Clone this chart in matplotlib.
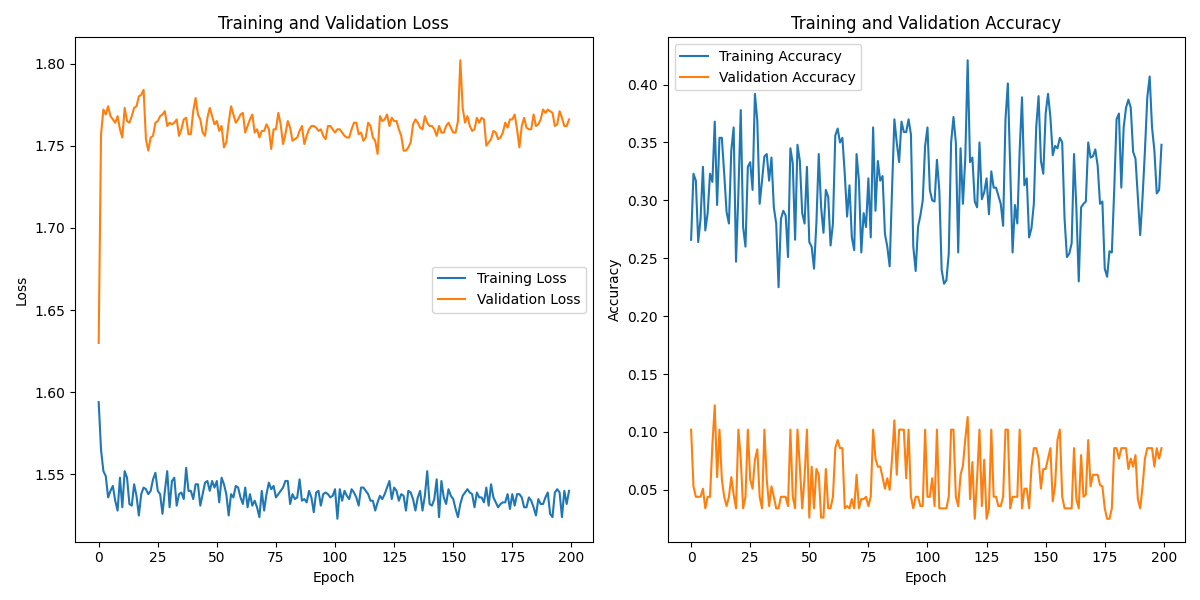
import numpy as np
import matplotlib
matplotlib.use('Agg')
import matplotlib.pyplot as plt

# values, one per epoch (0..199)
train_loss = [
    1.594, 1.565, 1.552, 1.549, 1.536, 1.540, 1.543, 1.534, 1.528, 1.548,
    1.530, 1.552, 1.548, 1.532, 1.531, 1.544, 1.537, 1.525, 1.538, 1.542,
    1.541, 1.538, 1.540, 1.547, 1.551, 1.540, 1.538, 1.526, 1.540, 1.552,
    1.530, 1.546, 1.548, 1.531, 1.538, 1.539, 1.535, 1.554, 1.540, 1.540,
    1.535, 1.544, 1.544, 1.531, 1.538, 1.545, 1.546, 1.540, 1.546, 1.542,
    1.546, 1.533, 1.548, 1.544, 1.538, 1.525, 1.538, 1.536, 1.543, 1.542,
    1.536, 1.532, 1.542, 1.530, 1.538, 1.531, 1.534, 1.530, 1.524, 1.540,
    1.528, 1.538, 1.545, 1.541, 1.543, 1.536, 1.538, 1.540, 1.542, 1.546,
    1.546, 1.532, 1.538, 1.535, 1.536, 1.547, 1.534, 1.535, 1.533, 1.540,
    1.536, 1.527, 1.539, 1.540, 1.531, 1.538, 1.539, 1.538, 1.536, 1.537,
    1.541, 1.523, 1.541, 1.534, 1.540, 1.537, 1.535, 1.541, 1.539, 1.536,
    1.531, 1.542, 1.542, 1.540, 1.538, 1.534, 1.534, 1.528, 1.533, 1.537,
    1.535, 1.538, 1.542, 1.546, 1.535, 1.542, 1.540, 1.534, 1.538, 1.537,
    1.528, 1.540, 1.539, 1.535, 1.528, 1.536, 1.540, 1.528, 1.537, 1.552,
    1.532, 1.531, 1.535, 1.547, 1.524, 1.546, 1.536, 1.532, 1.541, 1.537,
    1.535, 1.529, 1.524, 1.532, 1.537, 1.539, 1.541, 1.539, 1.538, 1.530,
    1.539, 1.536, 1.536, 1.533, 1.542, 1.531, 1.544, 1.536, 1.533, 1.530,
    1.532, 1.533, 1.533, 1.538, 1.529, 1.538, 1.531, 1.538, 1.538, 1.536,
    1.530, 1.530, 1.536, 1.534, 1.530, 1.525, 1.535, 1.532, 1.532, 1.536,
    1.539, 1.526, 1.524, 1.539, 1.541, 1.539, 1.524, 1.540, 1.532, 1.540,
]

val_loss = [
    1.630, 1.757, 1.772, 1.769, 1.774, 1.768, 1.766, 1.764, 1.768, 1.760,
    1.755, 1.773, 1.765, 1.764, 1.768, 1.773, 1.774, 1.780, 1.781, 1.784,
    1.754, 1.747, 1.755, 1.756, 1.764, 1.765, 1.768, 1.769, 1.771, 1.762,
    1.764, 1.763, 1.764, 1.766, 1.756, 1.760, 1.766, 1.767, 1.757, 1.757,
    1.771, 1.779, 1.769, 1.766, 1.758, 1.756, 1.767, 1.773, 1.768, 1.763,
    1.765, 1.759, 1.762, 1.749, 1.752, 1.764, 1.774, 1.769, 1.764, 1.766,
    1.769, 1.770, 1.758, 1.762, 1.766, 1.769, 1.758, 1.760, 1.755, 1.759,
    1.759, 1.763, 1.760, 1.748, 1.760, 1.760, 1.770, 1.763, 1.751, 1.757,
    1.765, 1.761, 1.753, 1.754, 1.755, 1.759, 1.762, 1.751, 1.756, 1.760,
    1.762, 1.762, 1.761, 1.759, 1.760, 1.756, 1.754, 1.762, 1.762, 1.760,
    1.758, 1.760, 1.760, 1.758, 1.756, 1.755, 1.755, 1.760, 1.764, 1.764,
    1.757, 1.758, 1.753, 1.755, 1.764, 1.762, 1.755, 1.753, 1.745, 1.768,
    1.765, 1.766, 1.769, 1.762, 1.767, 1.765, 1.765, 1.760, 1.756, 1.747,
    1.747, 1.749, 1.752, 1.763, 1.766, 1.764, 1.761, 1.760, 1.768, 1.764,
    1.762, 1.762, 1.760, 1.756, 1.762, 1.758, 1.758, 1.762, 1.764, 1.761,
    1.758, 1.758, 1.765, 1.802, 1.773, 1.764, 1.768, 1.762, 1.759, 1.760,
    1.767, 1.764, 1.767, 1.766, 1.750, 1.752, 1.754, 1.759, 1.758, 1.754,
    1.755, 1.758, 1.764, 1.761, 1.766, 1.766, 1.769, 1.760, 1.749, 1.762,
    1.767, 1.761, 1.760, 1.760, 1.769, 1.762, 1.763, 1.766, 1.772, 1.770,
    1.772, 1.771, 1.770, 1.762, 1.763, 1.771, 1.767, 1.762, 1.762, 1.766,
]

train_acc = [
    0.266, 0.323, 0.317, 0.264, 0.284, 0.329, 0.274, 0.289, 0.323, 0.316,
    0.368, 0.296, 0.354, 0.354, 0.323, 0.290, 0.280, 0.343, 0.363, 0.247,
    0.306, 0.378, 0.277, 0.260, 0.329, 0.333, 0.309, 0.392, 0.369, 0.297,
    0.317, 0.338, 0.340, 0.317, 0.337, 0.294, 0.280, 0.225, 0.284, 0.291,
    0.287, 0.251, 0.345, 0.332, 0.266, 0.348, 0.334, 0.289, 0.280, 0.329,
    0.264, 0.260, 0.241, 0.280, 0.340, 0.294, 0.272, 0.309, 0.303, 0.261,
    0.280, 0.356, 0.362, 0.350, 0.354, 0.323, 0.286, 0.313, 0.268, 0.257,
    0.340, 0.317, 0.255, 0.289, 0.277, 0.319, 0.268, 0.363, 0.291, 0.334,
    0.317, 0.321, 0.271, 0.260, 0.243, 0.309, 0.370, 0.350, 0.333, 0.368,
    0.359, 0.359, 0.370, 0.357, 0.260, 0.239, 0.277, 0.287, 0.300, 0.347,
    0.363, 0.309, 0.300, 0.299, 0.335, 0.309, 0.240, 0.228, 0.231, 0.254,
    0.350, 0.372, 0.350, 0.255, 0.345, 0.297, 0.337, 0.421, 0.333, 0.337,
    0.299, 0.294, 0.350, 0.301, 0.307, 0.319, 0.288, 0.325, 0.311, 0.311,
    0.304, 0.297, 0.278, 0.370, 0.401, 0.327, 0.255, 0.296, 0.280, 0.343,
    0.389, 0.313, 0.319, 0.268, 0.276, 0.297, 0.363, 0.390, 0.334, 0.323,
    0.375, 0.392, 0.372, 0.339, 0.347, 0.345, 0.354, 0.350, 0.284, 0.251,
    0.254, 0.263, 0.340, 0.293, 0.230, 0.294, 0.297, 0.299, 0.350, 0.337,
    0.338, 0.344, 0.330, 0.297, 0.299, 0.241, 0.234, 0.256, 0.255, 0.309,
    0.370, 0.375, 0.311, 0.363, 0.380, 0.387, 0.380, 0.342, 0.336, 0.303,
    0.270, 0.303, 0.343, 0.389, 0.407, 0.363, 0.343, 0.306, 0.309, 0.348,
]

val_acc = [
    0.102, 0.053, 0.044, 0.044, 0.044, 0.051, 0.034, 0.044, 0.044, 0.089,
    0.123, 0.061, 0.102, 0.059, 0.044, 0.036, 0.044, 0.061, 0.046, 0.034,
    0.102, 0.077, 0.034, 0.044, 0.102, 0.059, 0.051, 0.076, 0.085, 0.044,
    0.034, 0.102, 0.059, 0.036, 0.053, 0.044, 0.034, 0.034, 0.044, 0.044,
    0.044, 0.036, 0.102, 0.044, 0.034, 0.102, 0.070, 0.034, 0.061, 0.102,
    0.026, 0.070, 0.034, 0.068, 0.063, 0.026, 0.026, 0.068, 0.034, 0.034,
    0.044, 0.086, 0.093, 0.086, 0.086, 0.034, 0.036, 0.034, 0.042, 0.034,
    0.063, 0.034, 0.042, 0.042, 0.044, 0.036, 0.044, 0.102, 0.077, 0.070,
    0.070, 0.061, 0.051, 0.060, 0.050, 0.077, 0.110, 0.063, 0.102, 0.102,
    0.102, 0.060, 0.102, 0.044, 0.034, 0.044, 0.044, 0.036, 0.036, 0.102,
    0.044, 0.044, 0.060, 0.036, 0.102, 0.034, 0.034, 0.034, 0.034, 0.044,
    0.102, 0.102, 0.044, 0.036, 0.063, 0.071, 0.094, 0.113, 0.042, 0.074,
    0.025, 0.060, 0.102, 0.036, 0.076, 0.025, 0.034, 0.102, 0.044, 0.044,
    0.036, 0.036, 0.044, 0.102, 0.102, 0.034, 0.044, 0.044, 0.044, 0.102,
    0.034, 0.051, 0.051, 0.034, 0.070, 0.086, 0.086, 0.077, 0.051, 0.068,
    0.068, 0.077, 0.086, 0.040, 0.054, 0.093, 0.102, 0.044, 0.034, 0.034,
    0.034, 0.034, 0.086, 0.042, 0.034, 0.080, 0.044, 0.046, 0.093, 0.053,
    0.063, 0.063, 0.063, 0.054, 0.053, 0.034, 0.025, 0.025, 0.034, 0.086,
    0.086, 0.077, 0.086, 0.086, 0.086, 0.068, 0.077, 0.070, 0.080, 0.042,
    0.034, 0.053, 0.077, 0.086, 0.086, 0.086, 0.070, 0.086, 0.077, 0.086,
]

epochs = np.arange(len(train_loss))

plt.figure(figsize=(12, 6))

plt.subplot(1, 2, 1)
plt.plot(epochs, train_loss, label='Training Loss')
plt.plot(epochs, val_loss, label='Validation Loss')
plt.title('Training and Validation Loss')
plt.xlabel('Epoch')
plt.ylabel('Loss')
plt.legend(loc='center right')

plt.subplot(1, 2, 2)
plt.plot(epochs, train_acc, label='Training Accuracy')
plt.plot(epochs, val_acc, label='Validation Accuracy')
plt.title('Training and Validation Accuracy')
plt.xlabel('Epoch')
plt.ylabel('Accuracy')
plt.legend(loc='upper left')

plt.tight_layout()
plt.savefig('out.png', dpi=100)
